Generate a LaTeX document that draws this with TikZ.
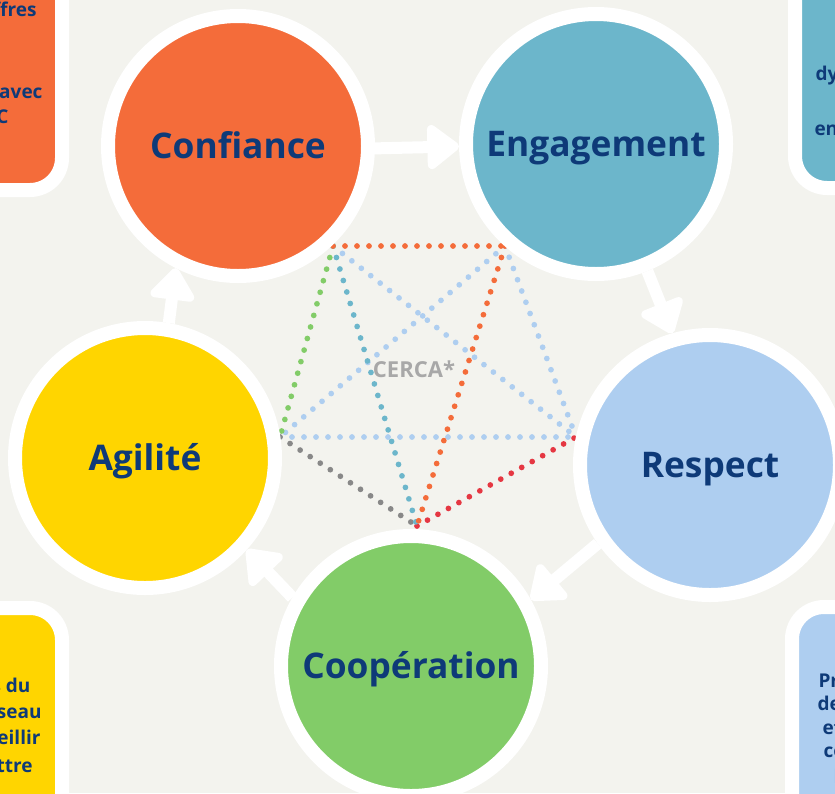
\documentclass[tikz,border=0pt]{standalone}
\usepackage{fontspec}
\setmainfont{Open Sans}
\usetikzlibrary{arrows.meta}

\definecolor{bgpaper}{RGB}{243,243,238}
\definecolor{cerorange}{RGB}{244,108,58}
\definecolor{certeal}{RGB}{108,182,203}
\definecolor{cerblue}{RGB}{174,206,240}
\definecolor{ceryellow}{RGB}{255,213,0}
\definecolor{cergreen}{RGB}{130,204,104}
\definecolor{cerred}{RGB}{229,55,66}
\definecolor{cergray}{RGB}{136,136,136}
\definecolor{cernavy}{RGB}{14,58,120}
\definecolor{cerlabel}{RGB}{168,168,168}

\tikzset{every picture/.style={line width=0.75pt}}
\tikzset{
  valeur/.style={circle, draw=white, line width=10.5pt, minimum size=195pt, inner sep=0pt,
    text height=19pt, text depth=0pt,
    text=cernavy, font=\bfseries\fontsize{26.5}{30}\selectfont},
  encart/.style={draw=white, line width=10.5pt, rounded corners=24pt},
  fleche/.style={draw=white, line width=9pt, -{Triangle[width=38pt,length=26pt,round]}},
  lien/.style={line width=4.3pt, line cap=round, dash pattern=on 0pt off 9pt},
  bout/.style={inner sep=0pt, text=cernavy, font=\bfseries\fontsize{14.25}{18}\selectfont},
}

\begin{document}
\begin{tikzpicture}[x=0.75pt,y=0.75pt,yscale=-1,xscale=1]
%set diagram size
\useasboundingbox (0,0) rectangle (835,793);
\fill [bgpaper] (0,0) rectangle (835,793);

%Corner boxes
\draw [encart, fill=cerorange] (-40,-40) rectangle (62,190);
\draw [encart, fill=certeal] (795,-40) rectangle (875,188);
\draw [encart, fill=ceryellow] (-40,608) rectangle (62,840);
\draw [encart, fill=cerblue] (792,607) rectangle (875,840);

%Web points
\coordinate (pA) at (333,246);
\coordinate (pB) at (505,246);
\coordinate (pC) at (576,437);
\coordinate (pD) at (417,526);
\coordinate (pE) at (280,437);

%Dotted web
\draw [lien, cerblue] (pA) -- (pC);
\draw [lien, cerblue] (pB) -- (pE);
\draw [lien, cerblue] (pB) -- (pC);
\draw [lien, cerblue] (pE) -- (pC);
\draw [lien, cergray] (pE) -- (pD);
\draw [lien, cerred] (pD) -- (pC);
\draw [lien, cergreen] (pA) -- (pE);
\draw [lien, certeal] (pA) -- (pD);
\draw [lien, cerorange] (pB) -- (pD);
\draw [lien, cerorange] (pA) -- (pB);

%Circles
\node [valeur, fill=cerorange] (conf) at (238,146) {Confiance};
\node [valeur, fill=certeal] (enga) at (596,144) {Engagement};
\node [valeur, fill=cerblue] (resp) at (710,465) {Respect};
\node [valeur, fill=cergreen] (coop) at (411,666) {Coopération};
\node [valeur, fill=ceryellow] (agil) at (145,458) {Agilité};

%Arrows
\draw [fleche] (conf.359) -- (enga.181.7);
\draw [fleche] (enga.292.8) -- (resp.106.7);
\draw [fleche] (resp.215.3) -- (coop.29.5);
\draw [fleche] (coop.150.3) -- (agil.318);
\draw [fleche] (agil.80.8) -- (conf.243);

% Text Node
\node [text=cerlabel, font=\bfseries\fontsize{16.5}{20}\selectfont] (cerca) at (414,369) {CERCA*};

% Text Node
\node [bout, anchor=base east] (tl1) at (37,16) {ffres};
\node [bout, anchor=base east] (tl2) at (43,98) {avec};
\node [bout, anchor=base east] (tl3) at (9,123) {C};
% Text Node
\node [bout, anchor=base west] (tr1) at (815,80) {dy};
\node [bout, anchor=base west] (tr2) at (814,135) {en};
% Text Node
\node [bout, anchor=base east] (bl1) at (31,692) {s du};
\node [bout, anchor=base east] (bl2) at (42,718) {seau};
\node [bout, anchor=base east] (bl3) at (41,744) {eillir};
\node [bout, anchor=base east] (bl4) at (33,772) {ttre};
% Text Node
\node [bout, anchor=base west] (br1) at (818,687) {Pr};
\node [bout, anchor=base west] (br2) at (817,710) {de};
\node [bout, anchor=base west] (br3) at (822,734) {et};
\node [bout, anchor=base west] (br4) at (823,757) {co};
\node [bout, anchor=base west] (br5) at (833,783) {l};

\end{tikzpicture}
\end{document}
